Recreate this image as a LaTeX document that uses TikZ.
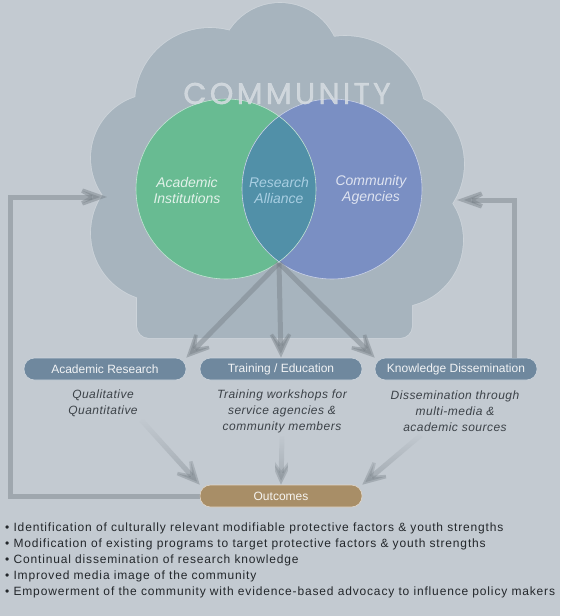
\documentclass[tikz,border=0pt]{standalone}
\usepackage{fontspec}
\setmainfont{Liberation Sans}
\newfontfamily\titlefont[FakeBold=1.2, LetterSpace=11]{Poppins}
\newfontfamily\listfont[LetterSpace=7]{Liberation Sans}
\newfontfamily\notefont[LetterSpace=4]{Liberation Sans}
\usepackage{tikz}
\usetikzlibrary{arrows.meta,positioning,fadings}

\definecolor{backdrop}{HTML}{C3CAD1}
\definecolor{cloudfill}{HTML}{A7B4BE}
\definecolor{cloudline}{HTML}{CDD4DA}
\definecolor{venngreen}{HTML}{68BB92}
\definecolor{vennblue}{HTML}{7A8FC3}
\definecolor{vennteal}{HTML}{5190A8}
\definecolor{boxblue}{HTML}{6F889E}
\definecolor{boxtan}{HTML}{A88E67}
\definecolor{flowgray}{HTML}{757E85}
\definecolor{notegray}{HTML}{3C4248}
\definecolor{listgray}{HTML}{23272B}

\begin{document}
\begin{tikzpicture}[x=1pt, y=-1pt,
    pill/.style={draw=white!65!boxblue, line width=.6pt, fill=boxblue, rounded corners=10.5pt,
        minimum width=162pt, minimum height=22pt, inner sep=0pt,
        text=white!90!boxblue, font=\fontsize{12}{14}\selectfont},
    flow/.style={draw=flowgray, opacity=.45, line width=5pt,
        -{Stealth[length=38pt,width=36pt,inset=24pt]}},
    feedback/.style={flow, -{Stealth[length=48pt,width=34pt,inset=30pt]}},
    note/.style={align=center, text=notegray, font=\notefont\fontsize{12}{16}\selectfont\itshape},
    venn/.style={align=center, font=\fontsize{14}{16}\selectfont\itshape}]

    \useasboundingbox (0,0) rectangle (560,616);
    \fill[backdrop] (0,0) rectangle (560,616);

    % cloud: outline pass, then fill pass
    \foreach \cx/\cy/\r in {280/63/60, 210/103/75, 345/116/80, 155/158/64, 392/164/72, 159/233/68, 396/240/67}
        \draw[cloudline, line width=1.6pt] (\cx,\cy) circle[radius=\r];
    \draw[cloudline, line width=1.6pt, rounded corners=12pt] (137,110) rectangle (412,338);
    \foreach \cx/\cy/\r in {280/63/60, 210/103/75, 345/116/80, 155/158/64, 392/164/72, 159/233/68, 396/240/67}
        \fill[cloudfill] (\cx,\cy) circle[radius=\r];
    \fill[cloudfill, rounded corners=12pt] (137,110) rectangle (412,338);

    % venn
    \fill[venngreen] (226,189) circle[radius=90];
    \fill[vennblue] (332,189) circle[radius=90];
    \begin{scope}
        \clip (226,189) circle[radius=90];
        \fill[vennteal] (332,189) circle[radius=90];
    \end{scope}
    \draw[white!60!venngreen, line width=.6pt] (226,189) circle[radius=90];
    \draw[white!60!vennblue, line width=.6pt] (332,189) circle[radius=90];

    \node[anchor=base, text=white!55!cloudfill, opacity=.85,
        font=\titlefont\fontsize{30}{30}\selectfont] (community) at (287,104) {COMMUNITY};

    \node[venn, text=white!80!venngreen] (academic) at (187,190) {Academic\\Institutions};
    \node[venn, text={rgb,255:red,168;green,206;blue,226}] (alliance) at (279,190) {Research\\Alliance};
    \node[venn, text=white!75!vennblue] (agencies) at (371,190) {Community\\Agencies};

    \coordinate (base) at (279,263);
    \coordinate (cloudleft) at (107,197);
    \coordinate (cloudright) at (457,200);

    % boxes
    \node[pill] (research) at (105,369) {Academic Research};
    \node[pill] (training) at (281,369) {Training / Education};
    \node[pill] (dissemination) at (456,369) {Knowledge Dissemination};
    \node[pill, fill=boxtan, draw=white!65!boxtan, text=white!90!boxtan] (outcomes) at (281,496) {Outcomes};

    \node[note] (researchNote) at (103,403) {Qualitative\\Quantitative};
    \node[note] (trainingNote) at (282,411) {Training workshops for\\service agencies \&\\community members};
    \node[note] (disseminationNote) at (455,411) {Dissemination through\\multi-media \&\\academic sources};

    % arrows
    \draw[flow] (base) -- (research.north east);
    \draw[flow] (base) -- (training.north);
    \draw[flow] (base) -- (dissemination.north west);

    \draw[flow, path fading=north] (researchNote.south east) -- (outcomes.north west);
    \draw[flow, path fading=north] (trainingNote.south) -- (outcomes.north);
    \draw[flow, path fading=north] ([xshift=-34pt]disseminationNote.south) -- (outcomes.north east);

    \draw[feedback] (outcomes.west) -- ++(-189,0) |- (cloudleft);
    \draw[feedback] ([xshift=58pt]dissemination.north) |- (cloudright);

    \node[anchor=north west, align=left, inner sep=0pt, text=listgray,
        font=\listfont\fontsize{12}{16}\selectfont] (results) at (5,523) {%
        \textbullet\ Identification of culturally relevant modifiable protective factors \& youth strengths\\
        \textbullet\ Modification of existing programs to target protective factors \& youth strengths\\
        \textbullet\ Continual dissemination of research knowledge\\
        \textbullet\ Improved media image of the community\\
        \textbullet\ Empowerment of the community with evidence-based advocacy to influence policy makers};
\end{tikzpicture}
\end{document}
